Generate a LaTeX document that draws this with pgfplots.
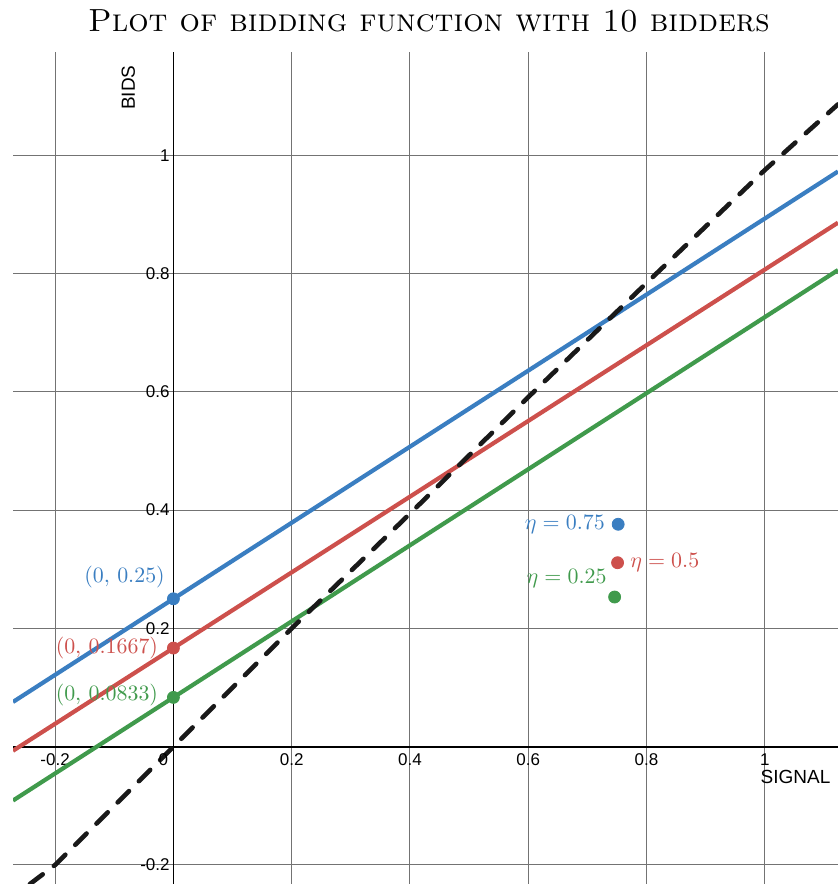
\documentclass[border=0pt]{standalone}
\usepackage{fontspec}
\usepackage{pgfplots}
\pgfplotsset{compat=1.18}
\newfontfamily\arial{Liberation Sans}
\definecolor{dblue}{HTML}{3A7EC1}
\definecolor{dred}{HTML}{CD504C}
\definecolor{dgreen}{HTML}{409A4C}
\begin{document}
\begin{tikzpicture}
\begin{axis}[
  scale only axis, width=412.5pt, height=416pt,
  xmin=-0.2712, xmax=1.1237, ymin=-0.2322, ymax=1.1745,
  axis lines=middle, axis line style={-, line width=0.9pt, black},
  xtick={-0.2,0,0.2,0.4,0.6,0.8,1}, xticklabels={-0.2,,0.2,0.4,0.6,0.8,1},
  ytick={-0.2,0.2,0.4,0.6,0.8,1}, yticklabels={-0.2,0.2,0.4,0.6,0.8,1},
  grid=major, major grid style={black!55, line width=0.5pt},
  major tick length=0pt,
  ticklabel style={font=\arial\fontsize{8.5}{10}\selectfont},
  xticklabel style={anchor=north, inner sep=0pt, yshift=-3.2pt},
  yticklabel style={anchor=east, inner sep=0pt, xshift=-1.7pt},
  clip mode=individual,
]
\addplot[dblue, line width=2.1pt, no markers] coordinates {(-0.2712,0.0756) (1.1237,0.9725)};
\addplot[dred, line width=2.1pt, no markers] coordinates {(-0.2712,-0.0069) (1.1237,0.8859)};
\addplot[dgreen, line width=2.1pt, no markers] coordinates {(-0.2712,-0.0911) (1.1237,0.8058)};
\addplot[black!90, line width=2.3pt, no markers, line cap=round, line join=round, dash pattern=on 8pt off 7pt]
  coordinates {(-0.2425,-0.2322) (-0.2,-0.2) (0,0) (0.2,0.2) (0.4,0.394) (0.6,0.591) (0.8,0.784) (1,0.975) (1.1237,1.086)};
\addplot[only marks, mark=*, mark size=3pt, dblue] coordinates {(0,0.25) (0.752,0.376)};
\addplot[only marks, mark=*, mark size=3pt, dred] coordinates {(0,0.1667) (0.751,0.311)};
\addplot[only marks, mark=*, mark size=3pt, dgreen] coordinates {(0,0.0833) (0.746,0.253)};
\node[anchor=east, inner sep=0pt, text=dblue, font=\fontsize{10.5}{12}\selectfont] at (axis cs:-0.014,0.2876) {$(0,\,0.25)$};
\node[anchor=east, inner sep=0pt, text=dred, font=\fontsize{10.5}{12}\selectfont] at (axis cs:-0.0254,0.1664) {$(0,\,0.1667)$};
\node[anchor=east, inner sep=0pt, text=dgreen, font=\fontsize{10.5}{12}\selectfont] at (axis cs:-0.0254,0.0874) {$(0,\,0.0833)$};
\node[anchor=east, inner sep=0pt, text=dblue, font=\fontsize{10.5}{12}\selectfont] at (axis cs:0.730,0.375) {$\eta = 0.75$};
\node[anchor=west, inner sep=0pt, text=dred, font=\fontsize{10.5}{12}\selectfont] at (axis cs:0.772,0.311) {$\eta = 0.5$};
\node[anchor=east, inner sep=0pt, text=dgreen, font=\fontsize{10.5}{12}\selectfont] at (axis cs:0.733,0.285) {$\eta = 0.25$};
\node[anchor=north east, inner sep=0pt, font=\arial\fontsize{8.5}{10}\selectfont] at ([xshift=-2.5pt,yshift=-3.2pt]axis cs:0,0) {0};
\node[rotate=90, anchor=south east, inner sep=0pt, font=\arial\fontsize{9.5}{11}\selectfont] at ([xshift=-19pt,yshift=-6.5pt]axis cs:0,1.1745) {BIDS};
\node[anchor=north east, inner sep=0pt, font=\arial\fontsize{9.5}{11}\selectfont] at ([xshift=-3.6pt,yshift=-11.7pt]axis cs:1.1237,0) {SIGNAL};
\node[anchor=base, inner sep=0pt, font=\fontsize{16}{19}\selectfont] at ([xshift=1.75pt,yshift=10pt]rel axis cs:0.5,1) {\textsc{Plot of bidding function with 10 bidders}};
\coordinate (sw) at (rel axis cs:0,0);
\coordinate (ne) at (rel axis cs:1,1);
\end{axis}
\pgfresetboundingbox
\path[use as bounding box] ([xshift=-6.5pt]sw) rectangle ([yshift=26pt]ne);
\end{tikzpicture}
\end{document}
